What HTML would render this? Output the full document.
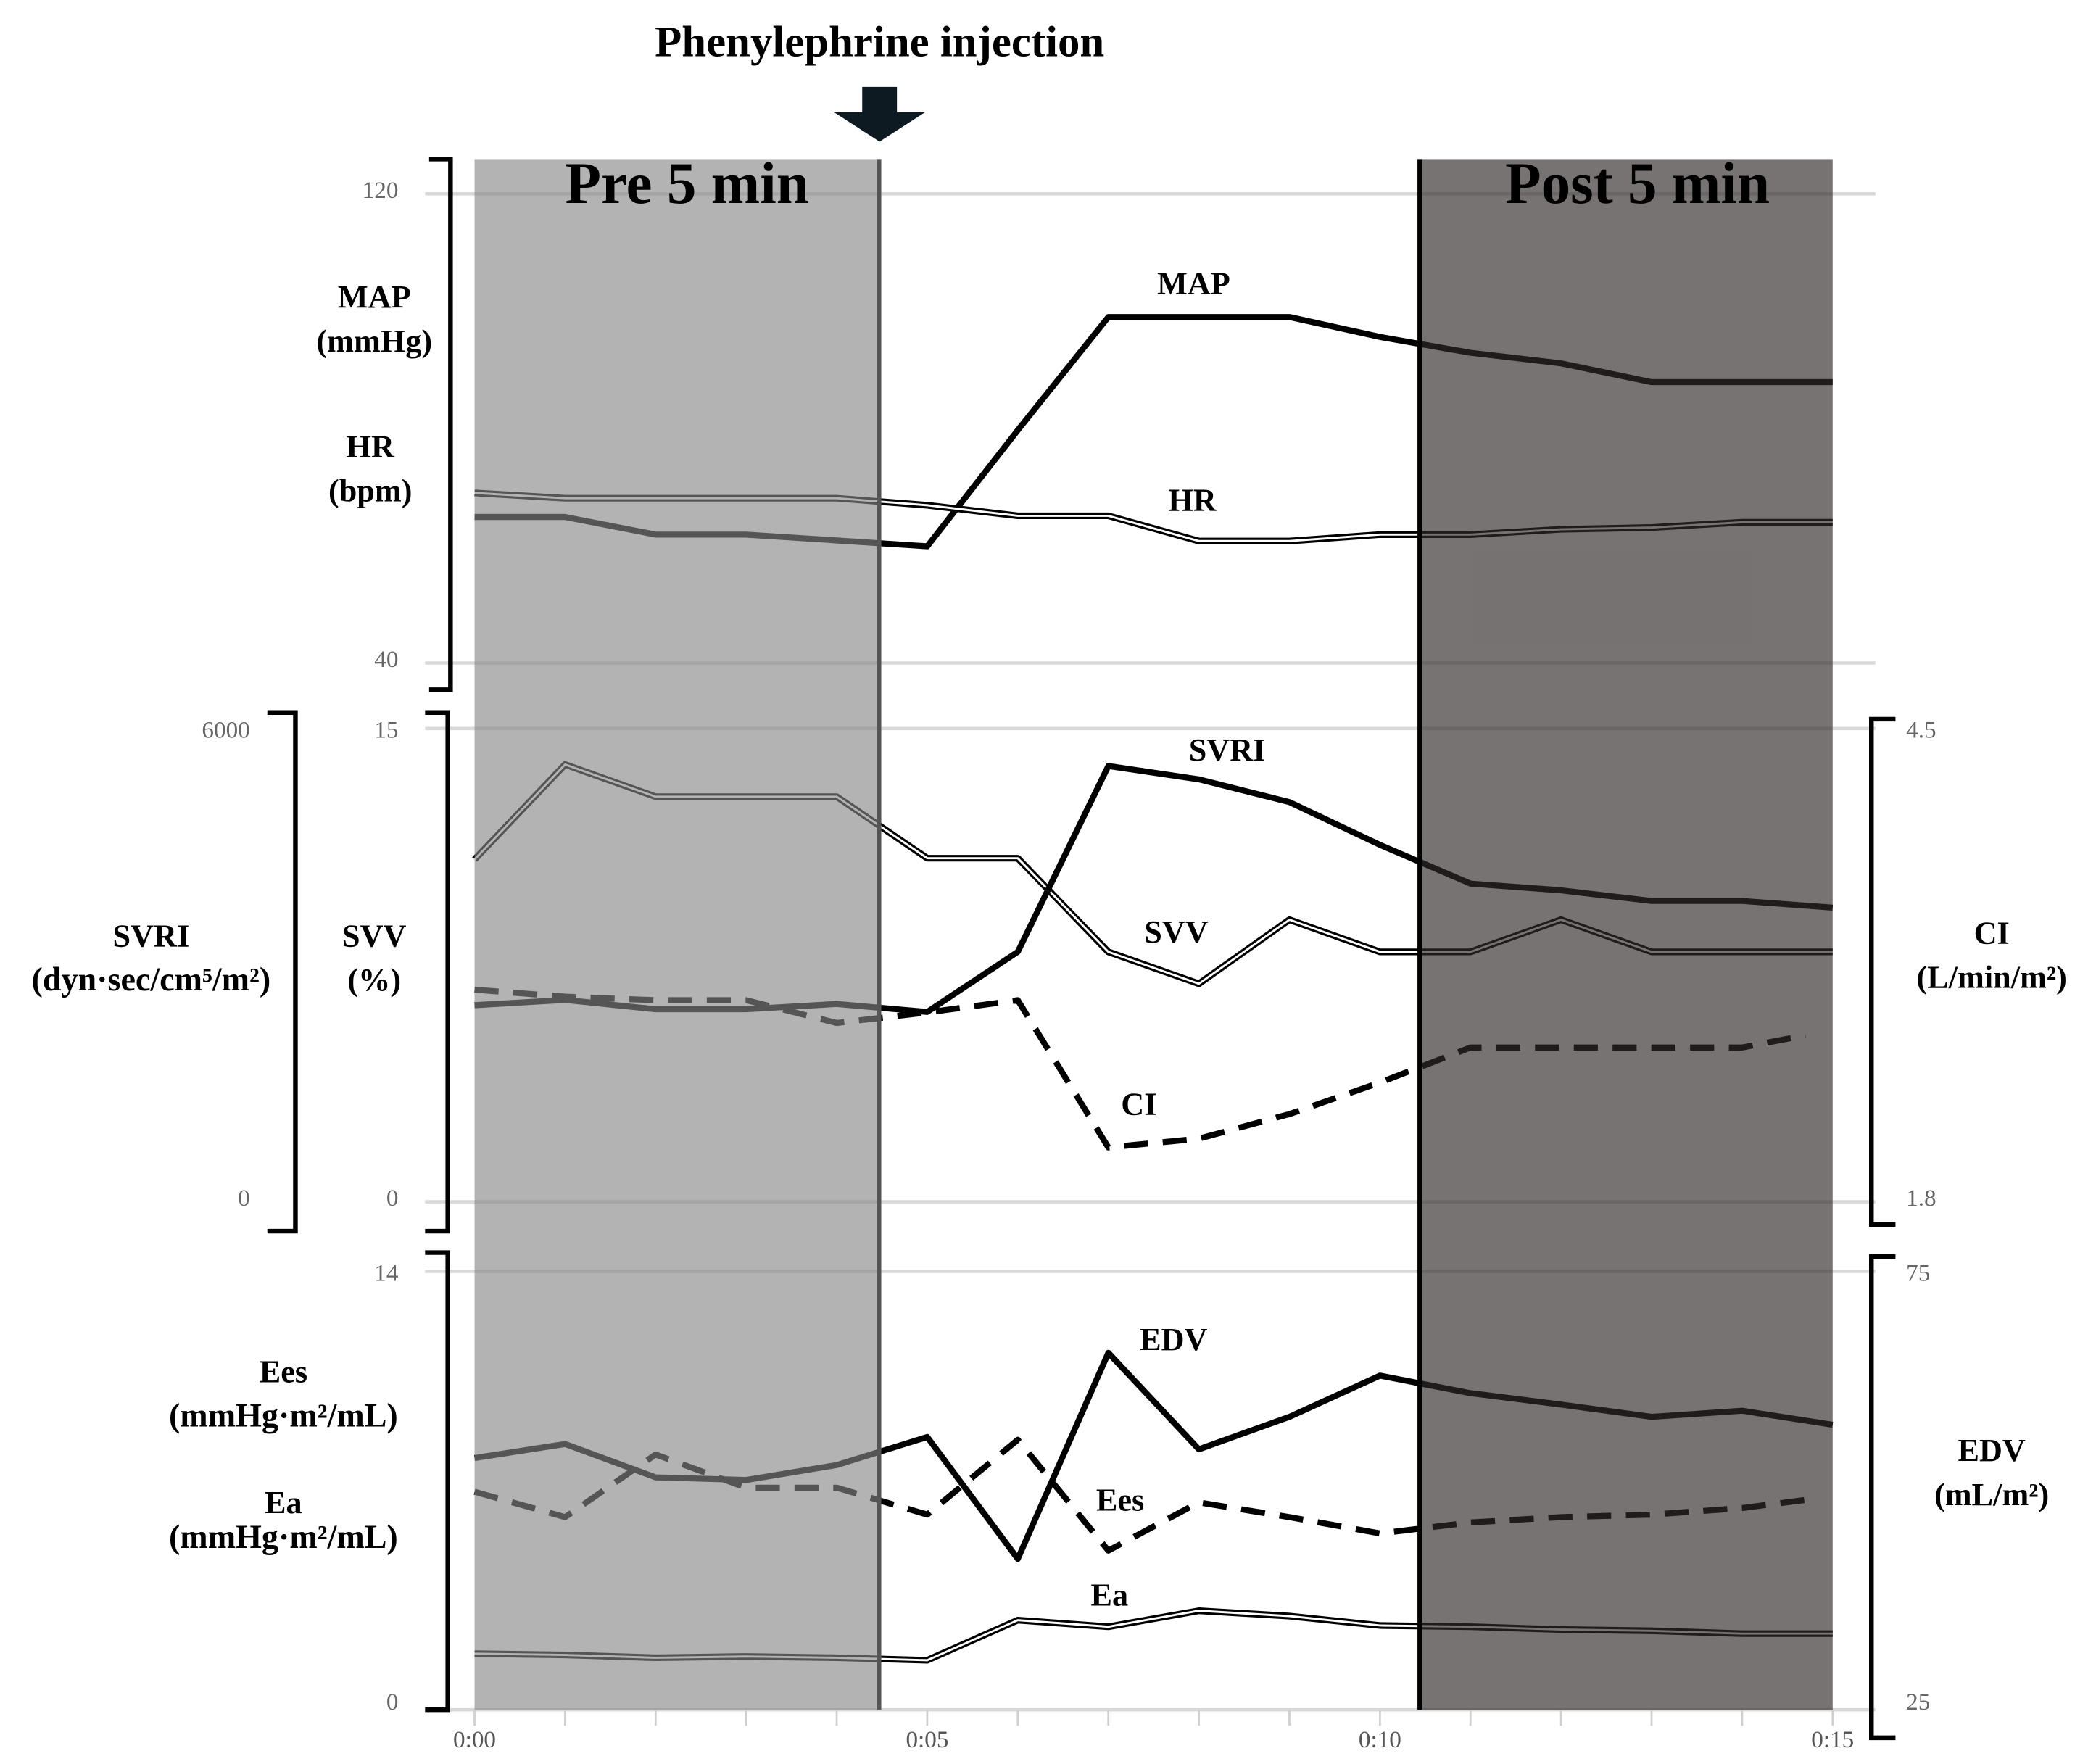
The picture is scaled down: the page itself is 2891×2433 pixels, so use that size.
<!DOCTYPE html>
<html><head><meta charset="utf-8"><style>
html,body{margin:0;padding:0;background:#fff}
svg{display:block}
text{font-family:"Liberation Serif",serif}
</style></head><body>
<svg id="chart" width="2891" height="2433" viewBox="0 0 1568 1319.6" xmlns="http://www.w3.org/2000/svg">
<g id="grid"></g>
<g id="series"></g>
<g id="overlay"></g>
<g id="labels"></g>
</svg>
<script>
const minutes=[0,1,2,3,4,5,6,7,8,9,10,11,12,13,14,15];
const mapVals=[64.9,64.9,61.9,61.9,60.9,59.9,79.7,99.0,99.0,99.0,95.6,92.9,91.1,87.9,87.9,87.9];
const hrVals=[69.0,68.1,68.1,68.1,68.1,66.9,65.1,65.1,60.8,60.8,61.9,61.9,62.8,63.1,64.0,64.0];
const svvVals=[10.85,13.86,12.84,12.84,12.84,10.89,10.89,7.92,6.91,8.94,7.92,7.92,8.94,7.92,7.92,7.92];
const svriVals=[2492,2559,2441,2441,2508,2407,3169,5525,5356,5068,4525,4034,3949,3814,3814,3729];
const ciVals=[3.01,2.97,2.95,2.95,2.82,2.88,2.95,2.11,2.16,2.30,2.48,2.68,2.68,2.68,2.68,2.75];
const edvVals=[53.7,55.3,51.5,51.2,52.9,56.1,42.2,65.7,54.7,58.4,63.1,61.1,59.8,58.4,59.1,57.5];
const eesVals=[6.96,6.15,8.15,7.09,7.09,6.23,8.62,5.08,6.62,6.15,5.63,5.98,6.15,6.23,6.44,6.70];
const eaVals=[1.79,1.75,1.66,1.70,1.66,1.58,2.86,2.65,3.16,2.99,2.69,2.65,2.56,2.52,2.43,2.43];
const xTickLabels=["0:00","0:05","0:10","0:15"];
const injectionTime=4.47, postStart=10.44;

const NS="http://www.w3.org/2000/svg";
const X0=355,X1=1371;
const x=t=>X0+(X1-X0)*t/15;
const lin=(v0,v1,y0,y1)=>v=>y0+(v-v0)*(y1-y0)/(v1-v0);
const yP1=lin(40,120,496,145);
const ySVV=lin(0,15,899,545), ySVRI=lin(0,6000,899,545), yCI=lin(1.8,4.5,899,545);
const yE=lin(0,14,1279,951), yEDV=lin(25,75,1279,951);
function mk(tag,attrs,parent,txt){const e=document.createElementNS(NS,tag);for(const k in attrs)e.setAttribute(k,attrs[k]);if(txt!==undefined)e.textContent=txt;document.getElementById(parent).appendChild(e);return e;}
const grid=[145,496,545,899,951,1279];
grid.forEach(gy=>{const l=mk('line',{x1:318,x2:1403,y1:gy,y2:gy,stroke:'#d9d9d9','stroke-width':2.5},'grid');

});
for(let m=0;m<=15;m++){const l=mk('line',{x1:x(m),x2:x(m),y1:1279,y2:1291,stroke:'#d0d0d0','stroke-width':1.5},'grid');

}
xTickLabels.forEach((s,i)=>{const t=mk('text',{x:x(i*5),y:1307,'font-size':18,'text-anchor':'middle',fill:'#555'},'labels',s);

});
function line(vals,yf,name,style,tEnd){
  const pts=vals.map((v,i)=>{let t=minutes[i];if(tEnd&&i===vals.length-1)t=tEnd;return x(t)+','+yf(v);}).join(' ');
  if(style==='double'){
    const a=mk('polyline',{points:pts,fill:'none',stroke:'#000','stroke-width':5,'stroke-linejoin':'round'},'series');
    
    
    const b=mk('polyline',{points:pts,fill:'none',stroke:'#fff','stroke-width':1.6,'stroke-linejoin':'round'},'series');
    
    
  } else {
    const at={points:pts,fill:'none',stroke:'#000','stroke-width':4.5,'stroke-linejoin':'round'};
    if(style==='dash')at['stroke-dasharray']='18,11';
    const a=mk('polyline',at,'series');
    
    
  }
}
line(mapVals,yP1,'map','solid');
line(hrVals,yP1,'hr','double');
line(svvVals,ySVV,'svv','double');
line(svriVals,ySVRI,'svri','solid');
line(ciVals,yCI,'ci','dash',14.7);
line(edvVals,yEDV,'edv','solid');
line(eesVals,yE,'ees','dash',14.7);
line(eaVals,yE,'ea','double');
let r=mk('rect',{x:x(0),y:119,width:x(injectionTime)-x(0),height:1160,fill:'rgb(135,135,135)','fill-opacity':0.63},'overlay');


r=mk('rect',{x:x(postStart),y:119,width:x(15)-x(postStart),height:1160,fill:'rgb(48,42,42)','fill-opacity':0.66},'overlay');


r=mk('line',{x1:x(injectionTime),x2:x(injectionTime),y1:119,y2:1279,stroke:'#555','stroke-width':3},'overlay');


r=mk('line',{x1:x(postStart),x2:x(postStart),y1:119,y2:1279,stroke:'#000','stroke-width':3.5},'overlay');


</script>
<svg style="position:absolute;left:0;top:0" width="2891" height="2433" viewBox="0 0 1568 1319.6" xmlns="http://www.w3.org/2000/svg">
<g font-family="Liberation Serif, serif" font-weight="bold" fill="#000">
<text x="658" y="42" font-size="33" text-anchor="middle">Phenylephrine injection</text>
<polygon points="645,65 671,65 671,84 692,84 658,106 624,84 645,84" fill="#0d1a22"/>
<text x="514" y="152" font-size="44" text-anchor="middle">Pre 5 min</text>
<text x="1225" y="152" font-size="44" text-anchor="middle">Post 5 min</text>
<g font-size="24" text-anchor="middle">
<text x="893" y="220">MAP</text>
<text x="892" y="382">HR</text>
<text x="918" y="569">SVRI</text>
<text x="880" y="705">SVV</text>
<text x="852" y="834">CI</text>
<text x="878" y="1010">EDV</text>
<text x="838" y="1130">Ees</text>
<text x="830" y="1201">Ea</text>
<text x="280" y="230">MAP</text>
<text x="280" y="263">(mmHg)</text>
<text x="277" y="342">HR</text>
<text x="277" y="375">(bpm)</text>
<text x="113" y="708">SVRI</text>
<text x="113" y="741" font-size="25">(dyn·sec/cm⁵/m²)</text>
<text x="280" y="708">SVV</text>
<text x="280" y="741">(%)</text>
<text x="1490" y="706">CI</text>
<text x="1490" y="739">(L/min/m²)</text>
<text x="212" y="1034">Ees</text>
<text x="212" y="1067" font-size="25">(mmHg·m²/mL)</text>
<text x="212" y="1132">Ea</text>
<text x="212" y="1158" font-size="25">(mmHg·m²/mL)</text>
<text x="1490" y="1093">EDV</text>
<text x="1490" y="1126">(mL/m²)</text>
</g>
</g>
<g font-family="Liberation Serif, serif" font-size="18" fill="#666">
<text x="298" y="148" text-anchor="end">120</text>
<text x="298" y="499" text-anchor="end">40</text>
<text x="187" y="552" text-anchor="end">6000</text>
<text x="187" y="902" text-anchor="end">0</text>
<text x="298" y="552" text-anchor="end">15</text>
<text x="298" y="902" text-anchor="end">0</text>
<text x="1426" y="552">4.5</text>
<text x="1426" y="902">1.8</text>
<text x="298" y="958" text-anchor="end">14</text>
<text x="298" y="1279" text-anchor="end">0</text>
<text x="1426" y="958">75</text>
<text x="1426" y="1279">25</text>
</g>
<g fill="none" stroke="#000" stroke-width="3.5">
<polyline points="321,119 337,119 337,516 321,516"/>
<polyline points="200,533 221,533 221,921 200,921"/>
<polyline points="318,533 335,533 335,921 318,921"/>
<polyline points="1418,538 1400,538 1400,916 1418,916"/>
<polyline points="318,937 335,937 335,1279 318,1279"/>
<polyline points="1418,940 1400,940 1400,1300 1418,1300"/>
</g>
</svg>
</body></html>
